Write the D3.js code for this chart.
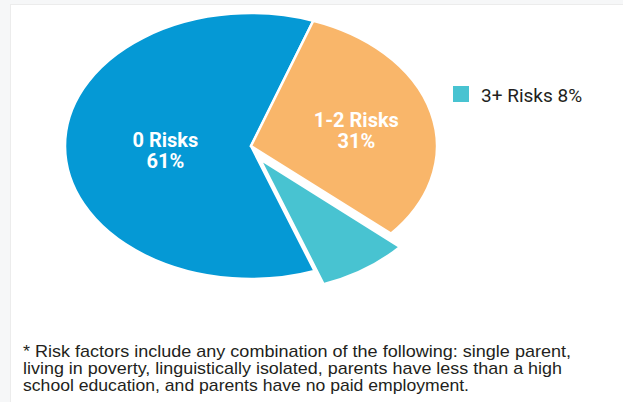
<!DOCTYPE html>
<meta charset="utf-8">
<style>
  html, body { margin: 0; padding: 0; background: #f6f7f8; }
  svg { display: block; }
</style>
<body>
<script src="https://cdn.jsdelivr.net/npm/d3@7"></script>
<script>
// data
var categories = ["0 Risks", "1-2 Risks", "3+ Risks"];
var shares = [61, 31, 8];
var colors = ["#0599d5", "#f9b66a", "#48c3d1"];
var exploded = [false, false, true];
var insideLabel = [true, true, false];
var footnote = [
  "* Risk factors include any combination of the following: single parent,",
  "living in poverty, linguistically isolated, parents have less than a high",
  "school education, and parents have no paid employment."
];

var W = 623, H = 402;
var cx = 251, cy = 146, rx = 186, ry = 133;

var svg = d3.select("body").append("svg").attr("width", W).attr("height", H);

// white card on a faint grey page
svg.append("rect").attr("x", 10.5).attr("y", 4.5).attr("width", W).attr("height", H)
  .attr("fill", "#fff").attr("stroke", "#ececec");

var slices = categories.map(function(c, i) {
  return {name: c, value: shares[i], color: colors[i], out: exploded[i], inside: insideLabel[i]};
});

var deg = Math.PI / 180;
var pie = d3.pie().sort(null).value(function(d) { return d.value; })
  .startAngle(160 * deg).endAngle(520 * deg);
var arcs = pie(slices);

var arc = d3.arc().innerRadius(0).outerRadius(1);

var g = svg.append("g");
g.selectAll("path").data(arcs).enter().append("path")
  .attr("transform", function(d) {
    var dx = 0, dy = 0;
    if (d.data.out) {
      var a = (d.startAngle + d.endAngle) / 2;
      dx = 16 * Math.sin(a); dy = -16 * Math.cos(a);
    }
    return "translate(" + (cx + dx) + "," + (cy + dy) + ") scale(" + rx + "," + ry + ")";
  })
  .attr("d", arc)
  .attr("fill", function(d) { return d.data.color; })
  .attr("stroke", "#fff")
  .attr("stroke-width", 2.5)
  .attr("stroke-linejoin", "miter")
  .attr("vector-effect", "non-scaling-stroke");

// labels inside slices
var labelR = {"0 Risks": 0.46, "1-2 Risks": 0.585};
var lab = g.selectAll("text.lab").data(arcs.filter(function(d) { return d.data.inside; }))
  .enter().append("text").attr("class", "lab")
  .attr("transform", function(d) {
    var a = (d.startAngle + d.endAngle) / 2, r = labelR[d.data.name];
    return "translate(" + (cx + r * rx * Math.sin(a)) + "," + (cy - r * ry * Math.cos(a)) + ")";
  })
  .attr("text-anchor", "middle")
  .attr("fill", "#fff")
  .style("font-family", "Roboto, 'DejaVu Sans', sans-serif")
  .style("font-weight", "bold")
  .style("font-size", "20px");
lab.append("tspan").attr("x", 0).attr("y", 1).text(function(d) { return d.data.name; });
lab.append("tspan").attr("x", 0).attr("y", 22).text(function(d) { return d.data.value + "%"; });

// legend for the small slice
var leg = svg.selectAll("g.leg").data(slices.filter(function(d) { return !d.inside; }))
  .enter().append("g").attr("class", "leg")
  .attr("transform", function(d, i) { return "translate(453," + (86 + i * 24) + ")"; });
leg.append("rect").attr("width", 16).attr("height", 16).attr("fill", function(d) { return d.color; });
leg.append("text").attr("x", 28).attr("y", 16)
  .attr("fill", "#231f20")
  .style("font-family", "Roboto, sans-serif")
  .style("font-size", "19px")
  .text(function(d) { return d.name + " " + d.value + "%"; });

// footnote
var fnWidths = [548, 539, 446];
svg.selectAll("text.fn").data(footnote).enter().append("text").attr("class", "fn")
  .attr("x", 23)
  .attr("y", function(d, i) { return 357 + i * 17; })
  .attr("fill", "#231f20")
  .style("font-family", "'Liberation Sans', Arial, sans-serif")
  .style("font-size", "17px")
  .attr("textLength", function(d, i) { return fnWidths[i]; })
  .attr("lengthAdjust", "spacingAndGlyphs")
  .text(function(d) { return d; });
</script>
</body>
